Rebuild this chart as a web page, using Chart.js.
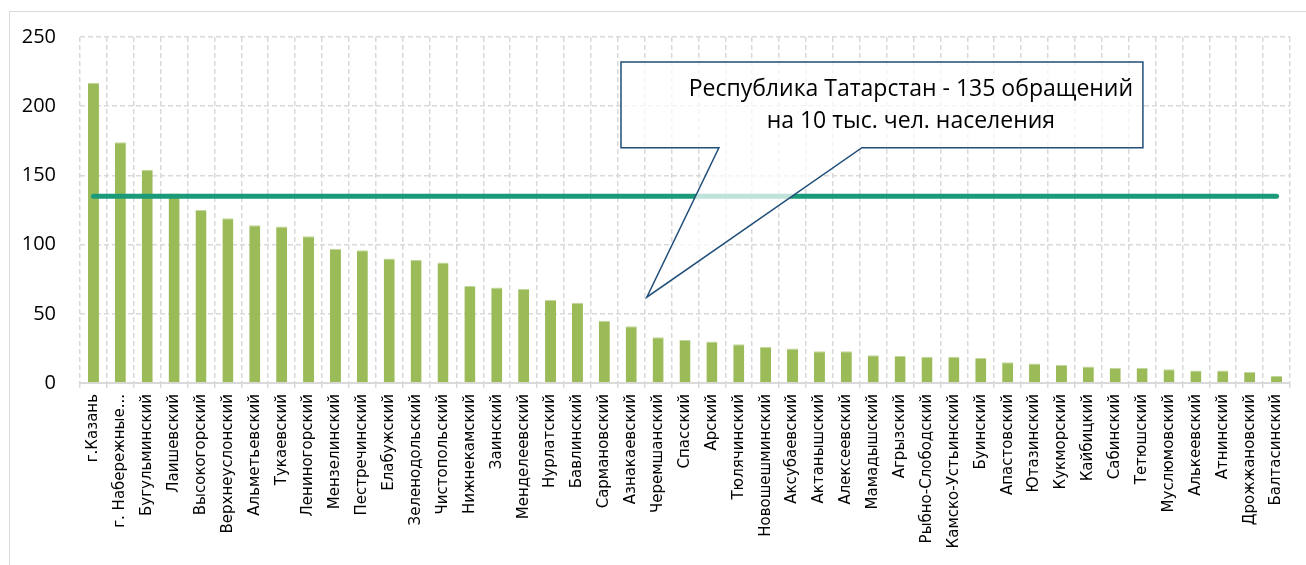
<!DOCTYPE html>
<html>
<head>
<meta charset="utf-8">
<script src="https://cdn.jsdelivr.net/npm/chart.js@4.4.0/dist/chart.umd.min.js"></script>
<style>
  body { margin: 0; background: #fff; }
  #wrap { position: relative; width: 1306px; height: 565px; overflow: hidden; }
  #frame { position: absolute; left: 9px; top: 11px; width: 1400px; height: 600px; border: 1px solid #d9d9d9; }
  canvas { position: absolute; left: 0; top: 0; }
</style>
</head>
<body>
<div id="wrap">
  <div id="frame"></div>
  <canvas id="chart" width="1306" height="565"></canvas>
</div>
<script>
// ---------- DATA ----------
const districts = [
  "г.Казань", "г. Набережные...", "Бугульминский", "Лаишевский", "Высокогорский",
  "Верхнеуслонский", "Альметьевский", "Тукаевский", "Лениногорский", "Мензелинский",
  "Пестречинский", "Елабужский", "Зеленодольский", "Чистопольский", "Нижнекамский",
  "Заинский", "Менделеевский", "Нурлатский", "Бавлинский", "Сармановский",
  "Азнакаевский", "Черемшанский", "Спасский", "Арский", "Тюлячинский",
  "Новошешминский", "Аксубаевский", "Актанышский", "Алексеевский", "Мамадышский",
  "Агрызский", "Рыбно-Слободский", "Камско-Устьинский", "Буинский", "Апастовский",
  "Ютазинский", "Кукморский", "Кайбицкий", "Сабинский", "Тетюшский",
  "Муслюмовский", "Алькеевский", "Атнинский", "Дрожжановский", "Балтасинский"
];

const appeals = [
  217, 174, 154, 137, 125,
  119, 114, 113, 106, 97,
  96, 90, 89, 87, 70,
  69, 68, 60, 58, 45,
  41, 33, 31, 30, 28,
  26, 25, 23, 23, 20,
  19.5, 19, 19, 18, 15,
  14, 13, 12, 11, 11,
  10, 9, 9, 8, 5
];

const republicAverage = 135;
const yTicks = [0, 50, 100, 150, 200, 250];
const calloutLines = ["Республика Татарстан - 135 обращений", "на 10 тыс. чел. населения"];

// ---------- CALLOUT (in scale units) ----------
const callout = {
  left: 19.62, right: 39.03, top: 232, bottom: 170,
  base1: 23.26, base2: 28.58,
  tipX: 20.58, tipY: 62,
  textX: 30.4, textY: [212, 189]
};

const calloutPlugin = {
  id: "callout",
  afterDatasetsDraw(chart) {
    const xs = chart.scales.x, ys = chart.scales.y;
    const ctx = chart.ctx;
    const px = v => xs.getPixelForValue(v);
    const py = v => ys.getPixelForValue(v);

    const l = px(callout.left), r = px(callout.right);
    const t = py(callout.top), b = py(callout.bottom);

    ctx.save();
    ctx.beginPath();
    ctx.moveTo(l, t);
    ctx.lineTo(r, t);
    ctx.lineTo(r, b);
    ctx.lineTo(px(callout.base2), b);
    ctx.lineTo(px(callout.tipX), py(callout.tipY));
    ctx.lineTo(px(callout.base1), b);
    ctx.lineTo(l, b);
    ctx.closePath();
    ctx.fillStyle = "rgba(255,255,255,0.72)";
    ctx.fill();
    ctx.strokeStyle = "#1f4e79";
    ctx.lineWidth = 1.5;
    ctx.stroke();

    ctx.fillStyle = "#000";
    ctx.font = "23px 'Open Sans'";
    ctx.textAlign = "center";
    ctx.textBaseline = "middle";
    calloutLines.forEach((line, i) => {
        ctx.fillText(line, px(callout.textX), py(callout.textY[i]));
    });
    ctx.restore();
  }
};

// ---------- CHART ----------
const ctx = document.getElementById("chart").getContext("2d");

new Chart(ctx, {
  data: {
    labels: districts,
    datasets: [
      {
        type: "line",
        data: districts.map(() => republicAverage),
        borderColor: "#1b9a79",
        borderWidth: 5,
        borderCapStyle: "round",
        pointRadius: 0,
        order: 0
      },
      {
        type: "bar",
        data: appeals,
        backgroundColor: "#9bbb59",
        borderColor: "#c3d69b",
        borderWidth: { top: 1, left: 0, right: 0, bottom: 0 },
        borderSkipped: "bottom",
        categoryPercentage: 1,
        barPercentage: 0.41,
        order: 1
      }
    ]
  },
  options: {
    responsive: false,
    animation: false,
    layout: { padding: { top: 37, left: 0, right: 16, bottom: 0 } },
    plugins: {
      legend: { display: false },
      tooltip: { enabled: false }
    },
    scales: {
      x: {
        offset: true,
        grid: {
          offset: true,
          color: "#d9d9d9",
          lineWidth: 1.5,
          tickLength: 5,
          tickColor: "#d9d9d9",
          tickBorderDash: []
        },
        border: { display: true, color: "#d9d9d9", width: 2, dash: [5, 3] },
        ticks: {
          autoSkip: false,
          maxRotation: 90,
          minRotation: 90,
          padding: 6,
          color: "#000",
          font: { family: "DejaVu Sans", size: 15 }
        },
        afterFit(scale) { scale.height = 182; }
      },
      y: {
        min: 0,
        max: 250,
        afterBuildTicks(scale) { scale.ticks = yTicks.map(v => ({ value: v })); },
        grid: {
          color: ctx => ctx.tick && ctx.tick.value === 0 ? "rgba(0,0,0,0)" : "#d9d9d9",
          lineWidth: 1.5,
          drawTicks: false
        },
        border: { display: false, dash: [5, 3] },
        ticks: {
          padding: 24,
          color: "#000",
          font: { family: "Open Sans", size: 20 }
        },
        afterFit(scale) { scale.width = 80; }
      }
    }
  },
  plugins: [calloutPlugin]
});
</script>
</body>
</html>
